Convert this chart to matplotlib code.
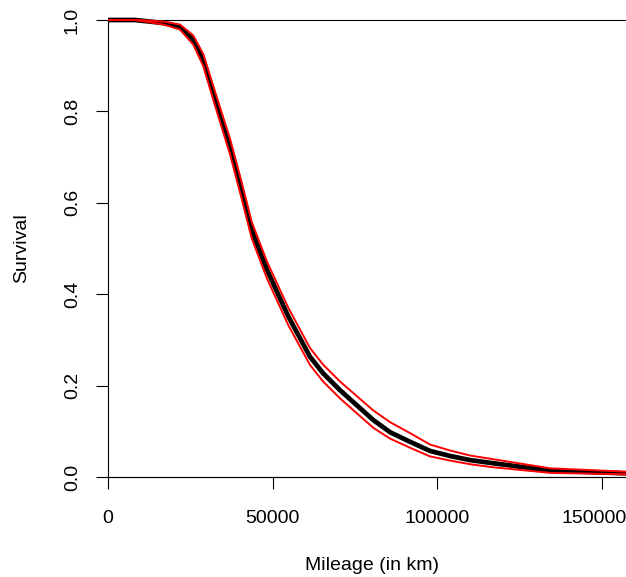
import numpy as np
import matplotlib
matplotlib.use("Agg")
import matplotlib.pyplot as plt
import matplotlib.transforms as mtransforms

# survival curve (mileage in km)
mileage = [0, 8200, 12770, 17330, 21880, 25930, 28970, 32010, 34560, 37080,
           40580, 43680, 48330, 54800, 61400, 65350, 70500, 80550, 85710,
           91790, 97870, 103950, 110030, 116110, 134350, 157450]
survival = [1.0, 1.0, 0.9965, 0.993, 0.985, 0.956, 0.912, 0.840, 0.781, 0.723,
            0.628, 0.540, 0.453, 0.351, 0.263, 0.227, 0.190, 0.125, 0.098,
            0.077, 0.057, 0.046, 0.037, 0.031, 0.014, 0.008]
upper = [1.0, 1.0, 0.9985, 0.996, 0.990, 0.966, 0.925, 0.855, 0.797, 0.740,
         0.646, 0.558, 0.471, 0.370, 0.282, 0.246, 0.209, 0.146, 0.120,
         0.096, 0.071, 0.058, 0.047, 0.040, 0.019, 0.0116]
lower = [1.0, 1.0, 0.995, 0.989, 0.979, 0.946, 0.899, 0.825, 0.765, 0.706,
         0.610, 0.522, 0.434, 0.332, 0.245, 0.209, 0.172, 0.108, 0.084,
         0.064, 0.045, 0.036, 0.028, 0.022, 0.009, 0.006]

xticks = [0, 50000, 100000, 150000]
yticks = [0.0, 0.2, 0.4, 0.6, 0.8, 1.0]

plt.rcParams['font.family'] = ['Liberation Sans', 'DejaVu Sans']

W, H = 626, 577
fig = plt.figure(figsize=(W / 100, H / 100), dpi=100)

# plot region in pixels: x from 108 to 626, y=0 at 477 and y=1 at 20
ppu = 457.0
bottom_px = 477 + 0.04 * ppu
top_px = 20 - 0.04 * ppu
ax = fig.add_axes([108 / W, (H - bottom_px) / H, 1 - 108 / W, (bottom_px - top_px) / H])

ax.plot(mileage, survival, color='black', lw=3.4, zorder=3)
ax.plot(mileage, upper, color='red', lw=1.4, zorder=4)
ax.plot(mileage, lower, color='red', lw=1.4, zorder=4)

ax.axhline(0, color='black', lw=0.8, zorder=2)
ax.axhline(1, color='black', lw=0.8, zorder=2)

ax.set_xlim(0, 157400)
ax.set_ylim(-0.04, 1.04)

for s in ['top', 'right']:
    ax.spines[s].set_visible(False)
ax.spines['left'].set_bounds(0, 1)
ax.spines['bottom'].set_bounds(0, 150000)
ax.spines['bottom'].set_position(('data', 0))
ax.spines['left'].set_linewidth(0.8)
ax.spines['bottom'].set_linewidth(0.8)

ax.set_xticks(xticks)
ax.set_xticklabels([str(v) for v in xticks])
ax.set_yticks(yticks)
ax.set_yticklabels([f"{v:.1f}" for v in yticks], rotation=90, va='center')
ax.tick_params(axis='both', direction='out', length=8.6, width=0.8,
               labelsize=14, colors='black')
ax.tick_params(axis='x', pad=15)
ax.tick_params(axis='y', pad=11)

# nudge the last x label so it stays inside the picture
last = ax.get_xticklabels()[-1]
last.set_transform(last.get_transform() + mtransforms.ScaledTranslation(-0.08, 0, fig.dpi_scale_trans))

fig.text(372 / W, (H - 565) / H, "Mileage (in km)", ha='center', va='center', fontsize=14)
fig.text(22 / W, (H - 248) / H, "Survival", ha='center', va='center', rotation=90, fontsize=14)

fig.savefig("out.png", dpi=100)
